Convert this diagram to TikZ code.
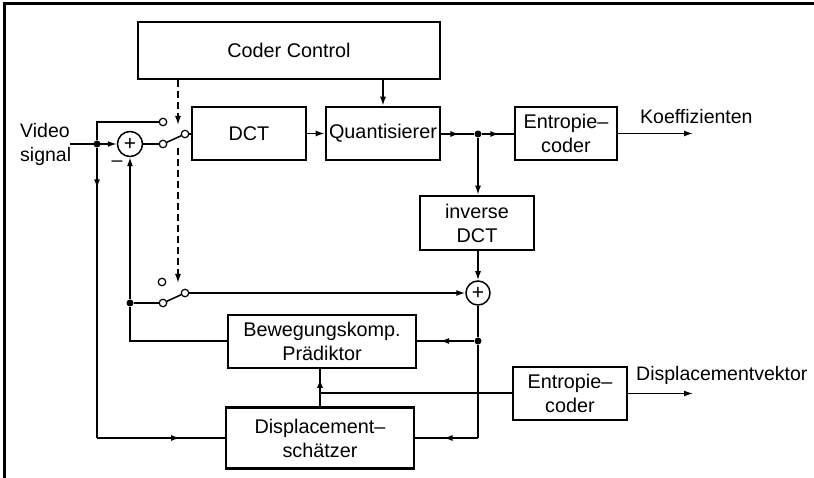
\documentclass[tikz,border=0pt]{standalone}
\usepackage{fontspec}
\setmainfont{Liberation Sans}
\usetikzlibrary{arrows.meta,calc,decorations.markings}
\tikzset{
  tip/.tip={Latex[length=9pt,width=6pt]},
  conn/.style={line width=1.5pt},
  arr/.style={conn,-{tip}},
  marrow/.style={postaction={decorate},decoration={markings,mark=at position #1 with {\arrow{tip}}}},
  box/.style={draw,line width=2.6pt,inner sep=0pt,align=center,font=\fontsize{19.8}{24}\selectfont},
  sumnode/.style={circle,draw,line width=1.5pt,inner sep=0pt,minimum size=25pt,font=\fontsize{21}{21}\selectfont},
  contact/.style={circle,draw,fill=white,inner sep=0pt,minimum size=7.5pt,line width=1.2pt},
  jdot/.style={circle,fill,inner sep=0pt,minimum size=7pt},
  lbl/.style={inner sep=0pt,font=\fontsize{19.5}{24}\selectfont},
  dashline/.style={conn,dash pattern=on 7pt off 4pt}
}
\begin{document}
\begin{tikzpicture}[x=1pt,y=-1pt]
\useasboundingbox (0,0) rectangle (814,478);
% frame
\draw[line width=3pt] (4,478) -- (4,4) -- (814,4);

% blocks
\node[box,minimum width=302pt,minimum height=57pt] (cc) at (289,50.5) {Coder Control};
\node[box,minimum width=114pt,minimum height=53pt] (dct) at (249,133.5) {DCT};
\node[box,minimum width=114pt,minimum height=53pt] (q) at (383,133.5) {Quantisierer};
\node[box,minimum width=102pt,minimum height=53pt] (e1) at (566,133.5) {Entropie–\\coder};
\node[box,minimum width=114pt,minimum height=54pt] (idct) at (477,223) {inverse\\DCT};
\node[box,minimum width=188pt,minimum height=53pt] (bew) at (322,341.5) {Bewegungskomp.\\Prädiktor};
\node[box,minimum width=188pt,minimum height=61pt] (disp) at (320,438) {Displacement–\\schätzer};
\node[box,minimum width=114pt,minimum height=53pt] (e2) at (570,393.5) {Entropie–\\coder};

% adders
\node[sumnode] (a1) at (130,144) {+};
\node[sumnode,minimum size=24pt] (a2) at (478,293) {+};

% junction dots
\node[jdot] (d1) at (97,144) {};
\node[jdot] (d2) at (478,134) {};
\node[jdot] (d3) at (130,303) {};
\node[jdot] (d4) at (478,341) {};

% switch contacts
\node[contact] (c1) at (163,122) {};
\node[contact] (c2) at (163,144) {};
\node[contact] (p1) at (185,134) {};
\node[contact] (c4) at (162,282) {};
\node[contact] (c3) at (163,303) {};
\node[contact] (p2) at (185,293) {};

% free ends
\coordinate (vin) at (70,144);
\coordinate (k1) at (178,125);
\coordinate (k2) at (178,148);
\coordinate (k3) at (178,283);
\coordinate (l1) at (97,438);
\coordinate (r1) at (478,438);
\coordinate (jn) at (320,393);
\coordinate (o1) at (693,133.5);
\coordinate (o2) at (693,393.5);

% labels
\node[lbl,align=left,anchor=west] (vs) at (20,144) {Video\\signal};
\node[lbl] (minus) at (117,164) {–};
\node[lbl,anchor=west] (kt) at (640,117) {Koeffizienten};
\node[lbl,anchor=west] (dv) at (636,375) {Displacementvektor};

% input side
\draw[arr] (vin) -- (a1);
\draw[conn] (d1) |- (c1);
\draw[conn] (a1) -- (c2);
\draw[conn] (c2) -- (p1);
\draw[conn] (p1) -- (p1 -| dct.west);
\draw[conn,marrow=0.14] (d1) -- (l1);
\draw[conn,marrow=0.65] (l1) -- (l1 -| disp.west);

% control (dashed)
\draw[dashline,-{tip}] (k1 |- cc.south) -- (k1);
\draw[dashline,-{tip}] (k2) -- (k3);
\draw[arr] (q.north |- cc.south) -- (q.north);

% forward path
\draw[arr] (dct) -- (q);
\draw[conn,marrow=0.55] (q.east |- d2) -- (d2);
\draw[conn,marrow=0.55] (d2) -- (d2 -| e1.west);
\draw[arr] (e1.east |- o1) -- (o1);
\draw[arr] (d2) -- (d2 |- idct.north);
\draw[arr] (a2 |- idct.south) -- (a2);

% lower switch and feedback
\draw[conn] (d3) -- (c3);
\draw[conn] (c3) -- (p2);
\draw[arr] (p2) -- (a2);
\draw[arr] (d3) -- (a1);
\draw[conn] (bew.west |- d4) -| (d3);
\draw[conn] (a2) -- (d4);
\draw[conn,marrow=0.6] (d4) -- (d4 -| bew.east);
\draw[conn] (d4) -- (r1);
\draw[conn,marrow=0.55] (r1) -- (r1 -| disp.east);

% displacement
\draw[conn] (disp.north -| jn) -- (jn);
\draw[conn,marrow=0.6] (jn) -- (jn |- bew.south);
\draw[conn] (jn) -- (jn -| e2.west);
\draw[arr] (e2.east |- o2) -- (o2);
\end{tikzpicture}
\end{document}
